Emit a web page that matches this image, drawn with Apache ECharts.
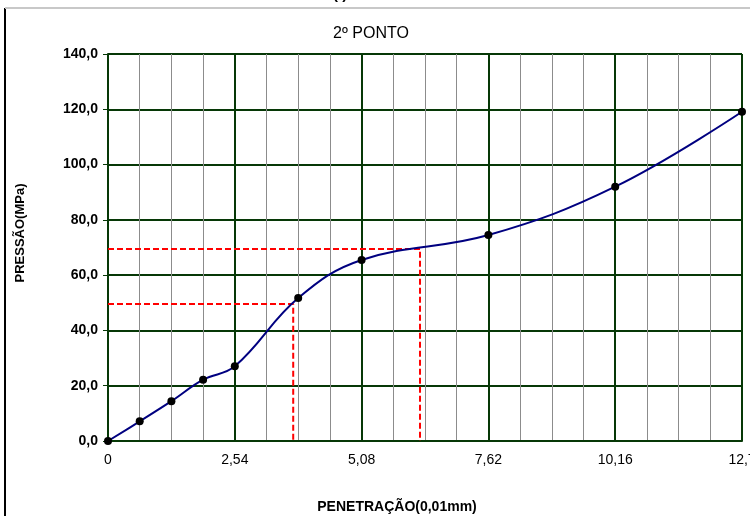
<!DOCTYPE html>
<html>
<head>
<meta charset="utf-8">
<script src="https://cdn.jsdelivr.net/npm/echarts@6/dist/echarts.min.js"></script>
<style>
  html, body { margin: 0; padding: 0; background: #fff; }
  #chart { width: 750px; height: 516px; }
</style>
</head>
<body>
<div id="chart"></div>
<script>
// pontos medidos
var penetracao = [0, 0.635, 1.27, 1.905, 2.54, 3.81, 5.08, 7.62, 10.16, 12.7];
var pressao = [0, 7.1, 14.4, 22.2, 27.0, 51.7, 65.5, 74.5, 92.0, 119.1];

// leituras em vermelho (tracejado)
var leitura1X = [0, 3.71, 3.71], leitura1Y = [49.6, 49.6, 0];
var leitura2X = [0, 6.25, 6.25], leitura2Y = [69.5, 69.5, 0];

var yMax = 140, yStep = 20;

function pares(xs, ys) {
    var out = [];
    for (var i = 0; i < xs.length; i++) out.push([xs[i], ys[i]]);
    return out;
}

var verde = '#063806';
var font = '"Liberation Sans", Arial, sans-serif';

var chart = echarts.init(document.getElementById('chart'));
chart.setOption({
    animation: false,
    title: {
        text: '2º PONTO', left: 366, top: 21, textAlign: 'center',
        textStyle: { fontFamily: font, fontSize: 16, fontWeight: 'normal', color: '#000' }
    },
    grid: { left: 108, top: 54, right: 8, bottom: 75, containLabel: false, outerBoundsMode: 'none' },
    xAxis: {
        type: 'value', min: 0, max: 12.7, interval: 2.54,
        axisLine: { show: true, lineStyle: { color: verde, width: 2 } },
        axisTick: { show: false },
        axisLabel: {
            margin: 12, color: '#000', fontFamily: font, fontSize: 14,
            formatter: function(v) { return v === 0 ? '0' : String(+v.toFixed(2)).replace('.', ','); }
        },
        splitLine: { show: true, lineStyle: { color: verde, width: 2 } },
        minorTick: { show: false, splitNumber: 4 },
        minorSplitLine: { show: true, lineStyle: { color: '#8c8c8c', width: 1 } }
    },
    yAxis: {
        type: 'value', min: 0, max: yMax, interval: yStep,
        axisLine: { show: true, lineStyle: { color: verde, width: 2 } },
        axisTick: { show: true, length: 5, lineStyle: { color: verde, width: 1 } },
        axisLabel: {
            margin: 10, color: '#000', fontFamily: font, fontSize: 14, fontWeight: 'bold',
            formatter: function(v) { return v.toFixed(1).replace('.', ','); }
        },
        splitLine: { show: true, lineStyle: { color: verde, width: 2 } }
    },
    graphic: [
        { type: 'line', shape: { x1: 5, y1: 8, x2: 5, y2: 516 }, style: { stroke: '#000', lineWidth: 2 } },
        { type: 'line', shape: { x1: 5, y1: 8, x2: 750, y2: 8 }, style: { stroke: '#c8c8c8', lineWidth: 2 } },
        { type: 'text', x: 333, y: -13, style: { text: '(I)', fill: '#000', font: 'bold 15px ' + font } },
        { type: 'text', x: 20, y: 233, rotation: Math.PI / 2, style: {
            text: 'PRESSÃO(MPa)', fill: '#000', font: 'bold 13px ' + font, align: 'center', verticalAlign: 'middle' } },
        { type: 'text', x: 397, y: 507, style: {
            text: 'PENETRAÇÃO(0,01mm)', fill: '#000', font: 'bold 14px ' + font, align: 'center', verticalAlign: 'middle' } }
    ],
    series: [
        {
            type: 'line', data: pares(leitura1X, leitura1Y), symbol: 'none', z: 3,
            lineStyle: { color: '#ff0000', width: 2, type: [6, 3] }
        },
        {
            type: 'line', data: pares(leitura2X, leitura2Y), symbol: 'none', z: 3,
            lineStyle: { color: '#ff0000', width: 2, type: [6, 3] }
        },
        {
            type: 'line', data: pares(penetracao, pressao), smooth: 0.4, z: 5,
            symbol: 'circle', symbolSize: 8,
            itemStyle: { color: '#000' },
            lineStyle: { color: '#000080', width: 2 }
        }
    ]
});
</script>
</body>
</html>
